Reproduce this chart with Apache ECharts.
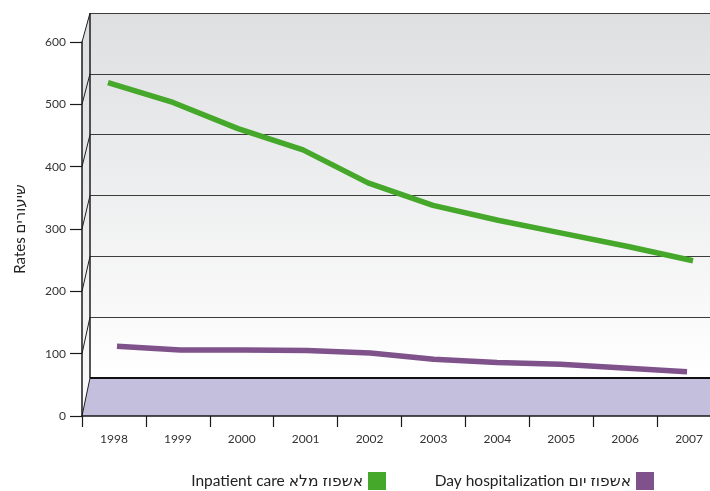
<!DOCTYPE html>
<html>
<head>
<meta charset="utf-8">
<script src="https://cdn.jsdelivr.net/npm/echarts@6/dist/echarts.min.js"></script>
<style>
  html, body { margin: 0; padding: 0; background: #ffffff; }
  #chart { width: 710px; height: 491px; }
</style>
</head>
<body>
<div id="chart"></div>
<script>
// ---- data ----
const years = ['1998', '1999', '2000', '2001', '2002', '2003', '2004', '2005', '2006', '2007'];
const inpatientCare = [535, 503, 461, 427, 374, 338, 314, 293, 272, 249];
const dayHospitalization = [112, 106, 106, 105, 101, 91, 86, 83, 77, 71];
const yMin = 0, yMax = 600, yStep = 100;
const seriesNames = ['Inpatient care אשפוז מלא', 'Day hospitalization אשפוז יום'];
const axisTitle = 'Rates שיעורים';

// ---- style ----
const FONT = "Lato, 'DejaVu Sans', sans-serif";
const GREEN = '#45a82b';
const PURPLE = '#7f528c';
const FLOOR = '#c3bfdd';
const FRONT_LEFT = 82, BACK_LEFT = 90;

const chart = echarts.init(document.getElementById('chart'), null, { renderer: 'canvas' });

const hiddenCat = (gi) => ({ type: 'category', data: years, gridIndex: gi, show: false, boundaryGap: true });
const hiddenVal = (gi) => ({ type: 'value', gridIndex: gi, min: yMin, max: yMax, interval: yStep, show: false });

const option = {
  animation: false,
  backgroundColor: '#ffffff',
  textStyle: { fontFamily: FONT },
  grid: [
    { left: FRONT_LEFT, width: 639, top: 42, bottom: 75, outerBoundsMode: 'none', containLabel: false },
    { left: BACK_LEFT, width: 680, top: 13, bottom: 113, show: true, borderWidth: 0, z: 0,
      outerBoundsMode: 'none', containLabel: false,
      backgroundColor: { type: 'linear', x: 0, y: 0, x2: 0, y2: 1,
        colorStops: [{ offset: 0, color: '#dedfe1' }, { offset: 1, color: '#ffffff' }] } },
    { left: 75.5, width: 650, top: 42, bottom: 75, outerBoundsMode: 'none', containLabel: false },
    { left: 85.3, width: 633.4, top: 42, bottom: 75, outerBoundsMode: 'none', containLabel: false }
  ],
  xAxis: [
    { type: 'category', data: years, gridIndex: 0, boundaryGap: true, z: 10,
      axisLine: { show: true, lineStyle: { color: '#1a1a1a', width: 1.5 } },
      axisTick: { show: true, length: 11, lineStyle: { color: '#1a1a1a', width: 1.2 } },
      axisLabel: { margin: 17, fontSize: 12, color: '#333333', fontFamily: FONT, hideOverlap: false },
      splitLine: { show: false } },
    hiddenCat(1), hiddenCat(2), hiddenCat(3)
  ],
  yAxis: [
    { type: 'value', gridIndex: 0, min: yMin, max: yMax, interval: yStep, z: 10,
      name: axisTitle, nameLocation: 'middle', nameRotate: 90, nameGap: 54,
      nameTextStyle: { fontSize: 15, color: '#222222', fontFamily: FONT },
      axisLine: { show: true, lineStyle: { color: '#1a1a1a', width: 1.5 } },
      axisTick: { show: true, length: 12, lineStyle: { color: '#1a1a1a', width: 1.2 } },
      axisLabel: { margin: 16, fontSize: 12, color: '#333333', fontFamily: FONT },
      splitLine: { show: false } },
    { type: 'value', gridIndex: 1, min: yMin, max: yMax, interval: yStep, z: 0,
      axisLine: { show: false }, axisTick: { show: false }, axisLabel: { show: false },
      splitLine: { show: true, lineStyle: { color: '#3c3c3c', width: 1.2 } } },
    hiddenVal(2), hiddenVal(3)
  ],
  legend: [
    { data: [seriesNames[0]], right: 710 - 386, bottom: 1, padding: 0, align: 'right', icon: 'rect',
      itemWidth: 18, itemHeight: 18, itemGap: 6,
      textStyle: { fontSize: 15.5, color: '#222222', fontFamily: FONT } },
    { data: [seriesNames[1]], right: 710 - 654, bottom: 1, padding: 0, align: 'right', icon: 'rect',
      itemWidth: 18, itemHeight: 18, itemGap: 6,
      textStyle: { fontSize: 15.5, color: '#222222', fontFamily: FONT } }
  ],
  series: [
    { name: seriesNames[0], type: 'line', xAxisIndex: 2, yAxisIndex: 2, data: inpatientCare,
      symbol: 'none', z: 5, color: GREEN, lineStyle: { color: GREEN, width: 5.5, cap: 'butt', join: 'bevel' } },
    { name: seriesNames[1], type: 'line', xAxisIndex: 3, yAxisIndex: 3, data: dayHospitalization,
      symbol: 'none', z: 5, color: PURPLE, lineStyle: { color: PURPLE, width: 5.5, cap: 'butt', join: 'bevel' } }
  ]
};
chart.setOption(option);

// ---- 3D decoration: left side wall and floor, derived from the two value axes ----
const yFront = (v) => chart.convertToPixel({ yAxisIndex: 0 }, v);
const yBack = (v) => chart.convertToPixel({ yAxisIndex: 1 }, v);
const ticks = [];
for (let v = yMin; v <= yMax; v += yStep) ticks.push(v);
const FAR_RIGHT = 760;

const elements = [];
elements.push({ type: 'polygon', z: 1, silent: true,
  shape: { points: [[FRONT_LEFT, yFront(yMax)], [BACK_LEFT, yBack(yMax)], [BACK_LEFT, yBack(yMin)], [FRONT_LEFT, yFront(yMin)]] },
  style: { fill: { type: 'linear', x: 0, y: 0, x2: 0, y2: 1,
    colorStops: [{ offset: 0, color: '#dcdde0' }, { offset: 1, color: '#fbfbfb' }] } } });
elements.push({ type: 'polygon', z: 1, silent: true,
  shape: { points: [[FRONT_LEFT, yFront(yMin)], [BACK_LEFT, yBack(yMin)], [FAR_RIGHT, yBack(yMin)], [FAR_RIGHT, yFront(yMin)]] },
  style: { fill: FLOOR } });
ticks.forEach(v => {
  elements.push({ type: 'line', z: 2, silent: true,
    shape: { x1: FRONT_LEFT, y1: yFront(v), x2: BACK_LEFT, y2: yBack(v) },
    style: { stroke: '#1e1e1e', lineWidth: 1 } });
});
elements.push({ type: 'line', z: 2, silent: true,
  shape: { x1: BACK_LEFT, y1: yBack(yMax), x2: BACK_LEFT, y2: yBack(yMin) },
  style: { stroke: '#1e1e1e', lineWidth: 1.5 } });
elements.push({ type: 'line', z: 2, silent: true,
  shape: { x1: BACK_LEFT, y1: yBack(yMin), x2: FAR_RIGHT, y2: yBack(yMin) },
  style: { stroke: '#111111', lineWidth: 2.2 } });

chart.setOption({ graphic: { elements: elements } });
</script>
</body>
</html>
